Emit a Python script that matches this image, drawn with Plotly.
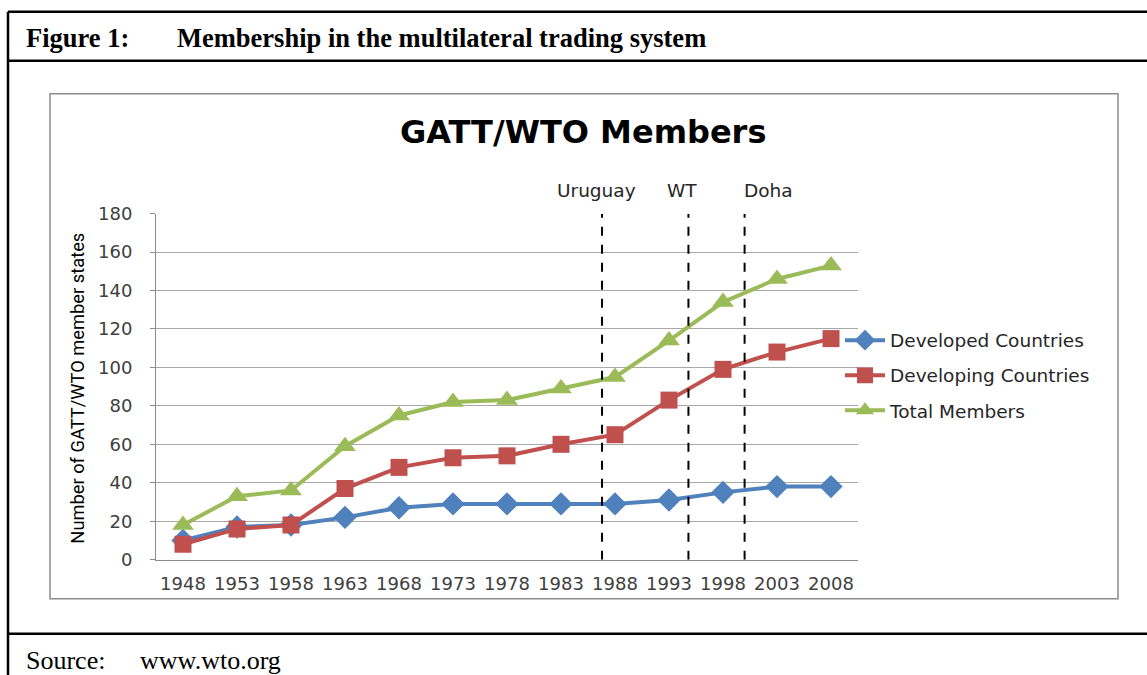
import plotly.graph_objects as go

years = [1948, 1953, 1958, 1963, 1968, 1973, 1978, 1983, 1988, 1993, 1998, 2003, 2008]
developed = [10, 17, 18, 22, 27, 29, 29, 29, 29, 31, 35, 38, 38]
developing = [8, 16, 18, 37, 48, 53, 54, 60, 65, 83, 99, 108, 115]
total = [18, 33, 36, 59, 75, 82, 83, 89, 95, 114, 134, 146, 153]

events = ["Uruguay", "WT", "Doha"]
event_x = [1986.8, 1994.8, 2000.0]
event_label_x = [1986.3, 1994.2, 2002.2]

W, H = 1147, 686
# screen-y to page-y correction observed in the capture
SY, OY = 0.9695, 10.3
def px(x):
    return x / W
def py(t):
    return 1 - ((t - OY) / SY) / H

TICKFONT = dict(family="DejaVu Sans", size=18, color="#404040")

fig = go.Figure()
fig.add_trace(go.Scatter(x=years, y=developed, name="Developed Countries", mode="lines+markers",
                         line=dict(color="#4F81BD", width=4), legendgroup="a",
                         marker=dict(symbol="diamond", size=18, color="#4F81BD")))
fig.add_trace(go.Scatter(x=years, y=developing, name="Developing Countries", mode="lines+markers",
                         line=dict(color="#C0504D", width=4), legendgroup="b",
                         marker=dict(symbol="square", size=17, color="#C0504D")))
fig.add_trace(go.Scatter(x=years, y=total, name="Total Members", mode="lines+markers",
                         line=dict(color="#9BBB59", width=4), legendgroup="c",
                         marker=dict(symbol="triangle-up", size=19, color="#9BBB59")))

shapes = []
for ex in event_x:
    shapes.append(dict(type="line", xref="x", yref="y", x0=ex, x1=ex, y0=0, y1=180,
                       line=dict(color="black", width=2, dash="dash")))
frame = dict(color="black", width=2.5)
shapes += [
    dict(type="line", xref="paper", yref="paper", x0=px(8), x1=1, y0=py(11), y1=py(11), line=frame),
    dict(type="line", xref="paper", yref="paper", x0=px(8), x1=1, y0=py(60), y1=py(60), line=frame),
    dict(type="line", xref="paper", yref="paper", x0=px(8), x1=1, y0=py(633), y1=py(633), line=frame),
    dict(type="line", xref="paper", yref="paper", x0=px(8), x1=px(8), y0=py(11), y1=0, line=frame),
    dict(type="rect", xref="paper", yref="paper", x0=px(50), x1=px(1118), y0=py(598), y1=py(93),
         line=dict(color="#8C8C8C", width=1.5), layer="below"),
]

annotations = []
for name, lx in zip(events, event_label_x):
    annotations.append(dict(x=lx, y=py(190), xref="x", yref="paper", text=name, showarrow=False,
                            font=dict(family="DejaVu Sans", size=18.5, color="#262626"),
                            xanchor="center", yanchor="middle"))
annotations += [
    dict(x=px(583), y=py(131), xref="paper", yref="paper", text="<b>GATT/WTO Members</b>", showarrow=False,
         font=dict(family="DejaVu Sans", size=32, color="black"), xanchor="center", yanchor="middle"),
    dict(x=px(78), y=py(388), xref="paper", yref="paper", text="Number of GATT/WTO member states",
         showarrow=False, textangle=-90, font=dict(family="Roboto", size=18.3, color="black"),
         xanchor="center", yanchor="middle"),
    dict(x=px(24), y=py(37), xref="paper", yref="paper", text="<b>Figure 1:</b>", showarrow=False,
         font=dict(family="Liberation Serif", size=26.5, color="black"), xanchor="left", yanchor="middle"),
    dict(x=px(175), y=py(37), xref="paper", yref="paper",
         text="<b>Membership in the multilateral trading system</b>", showarrow=False,
         font=dict(family="Liberation Serif", size=26.5, color="black"), xanchor="left", yanchor="middle"),
    dict(x=px(24), y=py(660), xref="paper", yref="paper", text="Source:", showarrow=False,
         font=dict(family="Liberation Serif", size=26, color="black"), xanchor="left", yanchor="middle"),
    dict(x=px(138), y=py(660), xref="paper", yref="paper", text="www.wto.org", showarrow=False,
         font=dict(family="Liberation Serif", size=26, color="black"), xanchor="left", yanchor="middle"),
]

fig.update_layout(
    width=W, height=H, margin=dict(l=0, r=0, t=0, b=0),
    paper_bgcolor="white", plot_bgcolor="white",
    shapes=shapes, annotations=annotations,
    showlegend=True,
    legend=dict(x=px(840), y=py(321), xanchor="left", yanchor="top", bgcolor="rgba(0,0,0,0)",
                font=dict(family="DejaVu Sans", size=18.5, color="#262626"),
                tracegroupgap=8, itemwidth=40),
    xaxis=dict(domain=[px(156), px(858)], range=[1945.5, 2010.5], tickmode="array",
               tickvals=years, ticktext=[str(y) for y in years], showgrid=False,
               showline=True, linecolor="#8C8C8C", linewidth=1, ticks="", tickfont=TICKFONT,
               ticklabelstandoff=8, zeroline=False, fixedrange=True),
    yaxis=dict(domain=[py(559), py(213)], range=[0, 180], dtick=20, showgrid=True,
               gridcolor="#A8A8A8", gridwidth=1, showline=True, linecolor="#8C8C8C", linewidth=1,
               ticks="outside", ticklen=5, tickcolor="#8C8C8C", tickfont=TICKFONT,
               ticklabelstandoff=14, zeroline=False, fixedrange=True),
)

fig.write_html("out.html", config={"displayModeBar": False},
               post_script="document.body.style.margin='0';")
